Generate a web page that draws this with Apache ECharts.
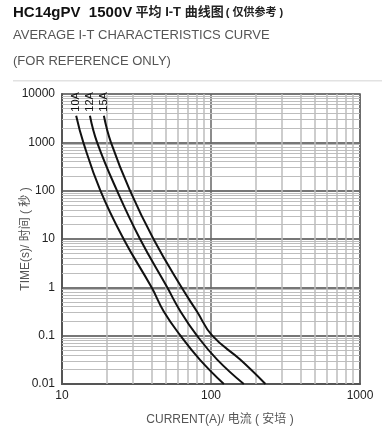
<!DOCTYPE html>
<html><head><meta charset="utf-8">
<script src="https://cdn.jsdelivr.net/npm/echarts@6/dist/echarts.min.js"></script>
<style>html,body{margin:0;padding:0;background:#fff}#c{width:382px;height:428px}</style>
</head><body><div id="c"></div>
<script>
// Data
const times = [3550, 1000, 100, 10, 1, 0.316, 0.1, 0.032, 0.01];
const current10A = [12.45, 13.9, 18.1, 25.9, 39.9, 48.2, 62.4, 84.1, 122];
const current12A = [15.4, 17.2, 23.4, 33.4, 50.8, 62.4, 80.5, 110, 166];
const current15A = [19.1, 21.3, 28.6, 41.1, 63.4, 80.5, 102, 157, 232];
const seriesNames = ['10A', '12A', '15A'];
const yTickLabels = ['0.01', '0.1', '1', '10', '100', '1000', '10000'];
const xTickLabels = ['10', '100', '1000'];

// minor grid values (log 2..9 per decade)
const yMinor = [];
[0.01, 0.1, 1, 10, 100, 1000].forEach(d => { for (let k = 2; k <= 9; k++) yMinor.push(+(d * k).toPrecision(3)); });
const xMinor = [];
[10, 100].forEach(d => { for (let k = 2; k <= 9; k++) xMinor.push(d * k); });

const FONT = '"Liberation Sans", Arial, "Noto Sans CJK SC", sans-serif';

function curve(name, xs) {
  return {
    type: 'line', name: name, smooth: 0.45,
    symbol: 'circle', symbolSize: 0, showSymbol: true, showAllSymbol: true,
    itemStyle: { color: '#111' },
    lineStyle: { color: '#111', width: 2 },
    label: { show: false },
    data: xs.map((x, i) => {
      const p = { value: [x, times[i]] };
      if (i === 0) {
        p.label = { show: true, formatter: name, position: 'top', rotate: 90, align: 'left',
          verticalAlign: 'middle', distance: 4, color: '#111', fontSize: 11, fontFamily: FONT };
      }
      return p;
    }),
    z: 5
  };
}

const chart = echarts.init(document.getElementById('c'), null, { renderer: 'canvas' });
chart.setOption({
  animation: false,
  backgroundColor: '#fff',
  graphic: [
    { type: 'text', left: 13, top: 5, style: {
      text: '{a|HC14gPV  1500V} {b|平均 I-T 曲线图}{c|( 仅供参考 )}',
      rich: {
        a: { fontSize: 15, fontWeight: 'bold', fill: '#111', fontFamily: FONT },
        b: { fontSize: 13, fontWeight: 'bold', fill: '#222', fontFamily: FONT },
        c: { fontSize: 11, fontWeight: 'bold', fill: '#222', fontFamily: FONT, padding: [0, 0, 0, 2] }
      } } },
    { type: 'text', left: 13, top: 29, style: { text: 'AVERAGE I-T CHARACTERISTICS CURVE', fontSize: 13, fill: '#555', fontFamily: FONT } },
    { type: 'text', left: 13, top: 55, style: { text: '(FOR REFERENCE ONLY)', fontSize: 13, fill: '#555', fontFamily: FONT } },
    { type: 'rect', shape: { x: 13, y: 80, width: 369, height: 1.5 }, style: { fill: '#e2e2e2' } }
  ],
  grid: { left: 62, right: 22, top: 94, bottom: 44, outerBoundsMode: 'none', containLabel: false,
    show: true, borderColor: '#555', borderWidth: 1.5 },
  xAxis: {
    type: 'log', logBase: 10, min: 10, max: 1000,
    name: 'CURRENT(A)/ 电流 ( 安培 )', nameLocation: 'middle', nameGap: 30, nameMoveOverlap: false,
    nameTextStyle: { color: '#555', fontSize: 12, fontFamily: FONT, padding: [0, 0, 0, 18] },
    axisLine: { show: true, lineStyle: { color: '#555', width: 2 } },
    axisTick: { show: false },
    axisLabel: { color: '#222', fontSize: 12, fontFamily: FONT, margin: 6,
      formatter: v => xTickLabels.find(t => +t === Math.round(v)) || '' },
    splitLine: { show: true, lineStyle: { color: '#666', width: 1.5 } }
  },
  yAxis: {
    type: 'log', logBase: 10, min: 0.01, max: 10000,
    name: 'TIME(s)/ 时间 ( 秒 )', nameLocation: 'middle', nameGap: 30, nameMoveOverlap: false,
    nameTextStyle: { color: '#555', fontSize: 12, fontFamily: FONT },
    axisLine: { show: true, lineStyle: { color: '#555', width: 2 } },
    axisTick: { show: false },
    axisLabel: { color: '#222', fontSize: 12, fontFamily: FONT, margin: 7,
      formatter: v => yTickLabels.find(t => Math.abs(Math.log10(+t) - Math.log10(v)) < 1e-6) || '' },
    splitLine: { show: true, lineStyle: { color: '#777', width: 2 } }
  },
  series: [
    {
      type: 'line', data: [], silent: true, z: 1,
      markLine: {
        silent: true, symbol: 'none', animation: false, label: { show: false },
        data: [
          ...yMinor.map(v => ({ yAxis: v, lineStyle: { color: '#bdbdbd', width: 1, type: 'solid' } })),
          ...xMinor.map(v => ({ xAxis: v, lineStyle: { color: '#bdbdbd', width: 1.5, type: 'solid' } }))
        ]
      }
    },
    curve(seriesNames[0], current10A),
    curve(seriesNames[1], current12A),
    curve(seriesNames[2], current15A)
  ]
});
</script></body></html>
